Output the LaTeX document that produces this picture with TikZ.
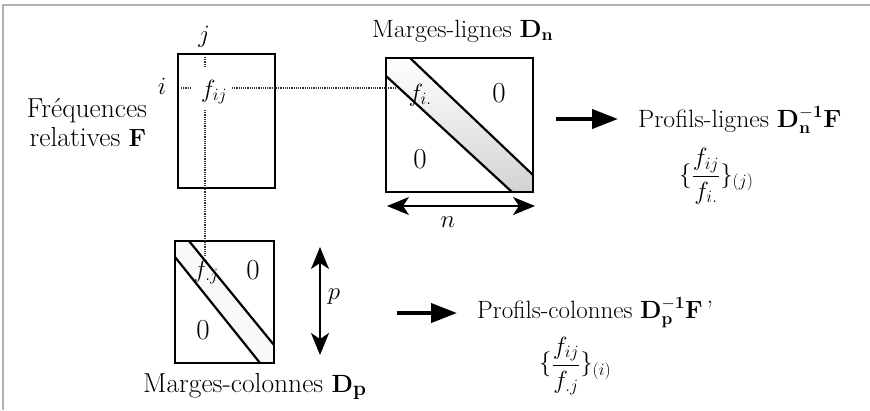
\documentclass[tikz,border=0pt]{standalone}
\usepackage{graphicx}
\usetikzlibrary{arrows.meta,calc}
\newcommand{\wt}[1]{\scalebox{1.03}[1]{#1}}
\begin{document}
\begin{tikzpicture}[x=1pt,y=-1pt,
  font=\fontsize{25}{30}\selectfont,
  box/.style={draw, line width=2.2pt, inner sep=0pt},
  bandline/.style={line width=2.2pt},
  dotline/.style={densely dotted, line width=1.2pt, black!80},
  fat/.style={line width=4pt, -{Triangle[length=26pt,width=19pt]}},
  dbl/.style={line width=2pt, {Stealth[length=22pt,width=18pt,inset=6pt]}-{Stealth[length=22pt,width=18pt,inset=6pt]}},
  lbl/.style={inner sep=0pt},
  zero/.style={inner sep=0pt, font=\fontsize{29}{34}\selectfont},
  big/.style={inner sep=0pt, font=\fontsize{27.5}{33}\selectfont}]
\useasboundingbox (0,0) rectangle (870,410);
\draw[gray!60, line width=2pt] (870,5) -- (3,5) -- (3,410);

% band fills
\shade[top color=white, middle color=white, bottom color=gray!35] (386,58) -- (410,58) -- (533,175) -- (533,192) -- (512,192) -- (386,76) -- cycle;
\fill[gray!5] (175,241) -- (189,241) -- (274,345) -- (274,363) -- (260,363) -- (175,257) -- cycle;

% boxes
\node[box, minimum width=97pt, minimum height=134pt] (F) at (226.5,121) {};
\node[box, minimum width=147pt, minimum height=134pt] (Dn) at (459.5,125) {};
\node[box, minimum width=99pt, minimum height=122pt] (Dp) at (224.5,302) {};

% band lines
\draw[bandline] (410,58) -- (533,175);
\draw[bandline] (386,76) -- (512,192);
\draw[bandline] (189,241) -- (274,345);
\draw[bandline] (175,257) -- (260,363);

% labels
\node[lbl] (j) at (204,37) {$j$};
\node[lbl] (i) at (162,86) {$i$};
\node[lbl] (fij) at (214,92) {$f_{ij}$};
\node[big, anchor=base] (freq) at (87,117) {Fréquences};
\node[big, anchor=base] (rel) at (88,146) {relatives $\mathbf{F}$};
\node[lbl, anchor=base west] (mlt) at (372,37) {\wt{Marges-lignes $\mathbf{D}_{\mathbf{n}}$}};
\node[lbl] (fi) at (420,95) {$f_{i.}$};
\node[zero] (z1) at (499,93) {0};
\node[zero] (z2) at (420,159) {0};
\node[lbl] (n) at (448,222) {$n$};
\node[lbl, anchor=base west] (pl) at (638,127) {\wt{Profils-lignes $\mathbf{D}_{\mathbf{n}}^{\mathbf{-1}}\mathbf{F}$}};
\node[lbl, anchor=west] (form1) at (679,176) {$\{\displaystyle\frac{f_{ij}}{f_{i.}}\}_{(j)}$};

\node[lbl] (fj) at (206,272) {$f_{.j}$};
\node[zero] (z3) at (253,270) {0};
\node[zero] (z4) at (203,330) {0};
\node[lbl] (p) at (334,297) {$p$};
\node[big, anchor=base west] (mcl) at (143,392) {Marges-colonnes $\mathbf{D}_{\mathbf{p}}$};
\node[lbl, anchor=base west] (pc) at (477,318) {Profils-colonnes $\mathbf{D}_{\mathbf{p}}^{\mathbf{-1}}\mathbf{F}$\,'};
\node[lbl, anchor=west] (form2) at (539,366) {$\{\displaystyle\frac{f_{ij}}{f_{.j}}\}_{(i)}$};

% dotted guide lines
\coordinate (jt) at (205,57);
\coordinate (jb) at (205,67);
\coordinate (vt) at (205,110);
\coordinate (vb) at (205,256);
\coordinate (ht) at (232,88);
\coordinate (he) at (397,88);
\coordinate (it) at (181,88);
\coordinate (ie) at (190,88);
\draw[dotline] (jt) -- (jb);
\draw[dotline] (vt) -- (vb);
\draw[dotline] (ht) -- (he);
\draw[dotline] (it) -- (ie);

% arrows
\coordinate (a1s) at (556,119);
\coordinate (a1e) at (618,119);
\coordinate (a2s) at (397,313);
\coordinate (a2e) at (457,313);
\coordinate (ns) at (387,206);
\coordinate (ne) at (535,206);
\coordinate (ps) at (320,247);
\coordinate (pe) at (320,355);
\draw[fat] (a1s) -- (a1e);
\draw[fat] (a2s) -- (a2e);
\draw[dbl] (ns) -- (ne);
\draw[dbl] (ps) -- (pe);
\end{tikzpicture}
\end{document}
